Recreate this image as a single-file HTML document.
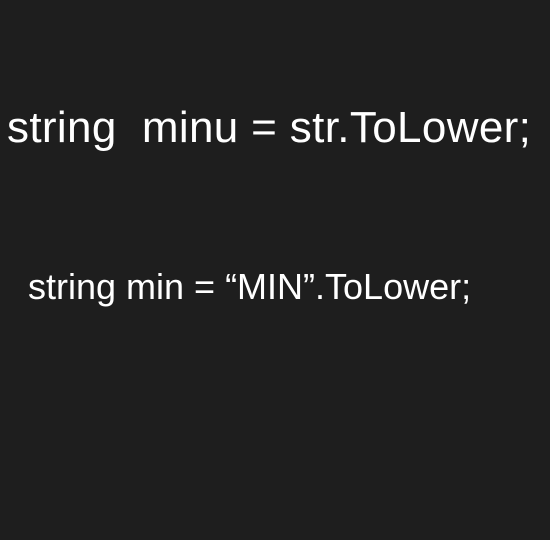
<!DOCTYPE html>
<html><head><style>
body{margin:0;width:550px;height:540px;background:#1e1e1e;overflow:hidden;position:relative;font-family:"Liberation Sans",sans-serif;color:#fff}
.a{position:absolute;left:7px;top:106px;font-size:44px;white-space:pre;line-height:44px;letter-spacing:0.35px}
.b{position:absolute;left:28px;top:269px;font-size:36px;white-space:pre;line-height:36px}
</style></head><body>
<div class="a">string  minu = str.ToLower;</div>
<div class="b">string min = “MIN”.ToLower;</div>
</body></html>
